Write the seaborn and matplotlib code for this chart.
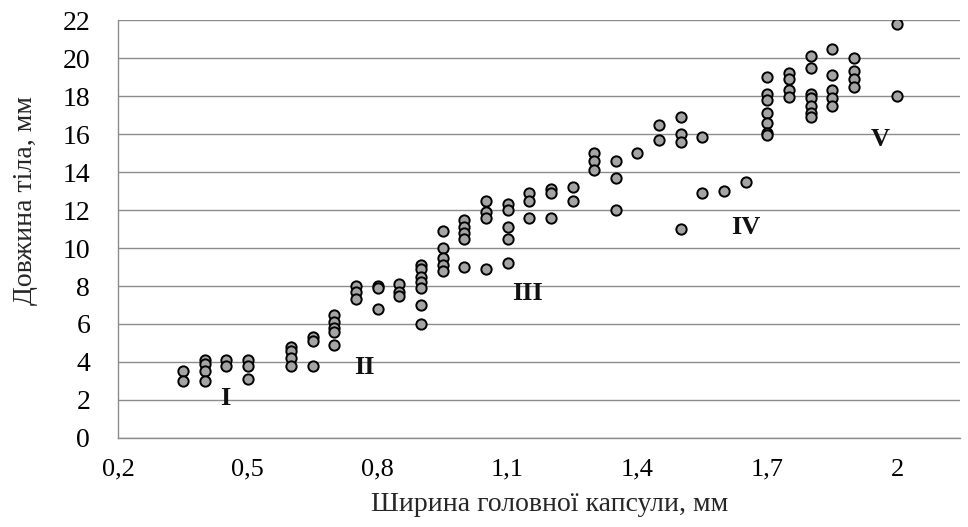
import pandas as pd
import matplotlib
matplotlib.use("Agg")
import matplotlib.pyplot as plt
import seaborn as sns

# head capsule width (mm) and body length (mm)
width_mm = [
    0.35, 0.35,
    0.4, 0.4, 0.4, 0.4,
    0.45, 0.45,
    0.5, 0.5, 0.5,
    0.6, 0.6, 0.6, 0.6,
    0.65, 0.65, 0.65,
    0.7, 0.7, 0.7, 0.7, 0.7,
    0.75, 0.75, 0.75,
    0.8, 0.8, 0.8,
    0.85, 0.85, 0.85,
    0.9, 0.9, 0.9, 0.9, 0.9, 0.9, 0.9,
    0.95, 0.95, 0.95, 0.95, 0.95,
    1.0, 1.0, 1.0, 1.0, 1.0,
    1.05, 1.05, 1.05, 1.05,
    1.1, 1.1, 1.1, 1.1, 1.1,
    1.15, 1.15, 1.15,
    1.2, 1.2, 1.2,
    1.25, 1.25,
    1.3, 1.3, 1.3,
    1.35, 1.35, 1.35,
    1.4,
    1.45, 1.45,
    1.5, 1.5, 1.5, 1.5,
    1.55, 1.55,
    1.6,
    1.65,
    1.7, 1.7, 1.7, 1.7, 1.7, 1.7, 1.7,
    1.75, 1.75, 1.75, 1.75,
    1.8, 1.8, 1.8, 1.8, 1.8, 1.8, 1.8,
    1.85, 1.85, 1.85, 1.85, 1.85,
    1.9, 1.9, 1.9, 1.9,
    2.0, 2.0,
]
length_mm = [
    3.5, 3.0,
    4.1, 3.9, 3.5, 3.0,
    4.1, 3.8,
    4.1, 3.8, 3.1,
    4.8, 4.6, 4.2, 3.8,
    5.3, 5.1, 3.8,
    6.5, 6.1, 5.8, 5.6, 4.9,
    8.0, 7.7, 7.3,
    8.0, 7.9, 6.8,
    8.1, 7.7, 7.5,
    9.1, 8.9, 8.5, 8.2, 7.9, 7.0, 6.0,
    10.9, 10.0, 9.5, 9.1, 8.8,
    11.5, 11.1, 10.8, 10.5, 9.0,
    12.5, 11.9, 11.6, 8.9,
    12.3, 12.0, 11.1, 10.5, 9.2,
    12.9, 12.5, 11.6,
    13.1, 12.9, 11.6,
    13.2, 12.5,
    15.0, 14.6, 14.1,
    14.6, 13.7, 12.0,
    15.0,
    16.5, 15.7,
    16.9, 16.0, 15.6, 11.0,
    15.85, 12.9,
    13.0,
    13.5,
    19.0, 18.1, 17.8, 17.1, 16.6, 16.05, 15.95,
    19.2, 18.9, 18.3, 17.95,
    20.1, 19.5, 18.1, 17.9, 17.5, 17.1, 16.9,
    20.5, 19.1, 18.3, 17.9, 17.5,
    20.0, 19.3, 18.9, 18.5,
    21.8, 18.0,
]

# instar labels and where they sit
instar_labels = ["I", "II", "III", "IV", "V"]
instar_x = [0.447, 0.77, 1.145, 1.65, 1.96]
instar_y = [2.1, 3.7, 7.6, 11.1, 15.7]

x_ticks = [0.2, 0.5, 0.8, 1.1, 1.4, 1.7, 2.0]
x_tick_labels = ["0,2", "0,5", "0,8", "1,1", "1,4", "1,7", "2"]
y_ticks = list(range(0, 23, 2))

df = pd.DataFrame({"width": width_mm, "length": length_mm})

sns.set_style("white")
plt.rcParams["font.family"] = ["Liberation Serif", "DejaVu Serif"]

fig = plt.figure(figsize=(9.68, 5.27), dpi=100)
ax = fig.add_axes([0.1219, 0.1689, 0.8698, 0.7931])

ax.yaxis.grid(True, color="#8c8c8c", linewidth=1.0)
ax.set_axisbelow(True)

sns.scatterplot(data=df, x="width", y="length", ax=ax, s=55,
                color="#a4a4a4", edgecolor="black", linewidth=1.4, zorder=3)

for lab, lx, ly in zip(instar_labels, instar_x, instar_y):
    ax.text(lx, ly, lab, ha="center", va="center", fontsize=19,
            fontweight="bold", color="#111111")

ax.set_xlim(0.2, 2.145)
ax.set_ylim(0, 22)
ax.set_xticks(x_ticks)
ax.set_xticklabels(x_tick_labels)
ax.set_yticks(y_ticks)
ax.tick_params(axis="both", colors="#8c8c8c", labelcolor="black",
               direction="out", length=6, width=1)
ax.tick_params(axis="x", labelsize=19, pad=9)
ax.tick_params(axis="y", labelsize=20, pad=14)

for side in ["top", "right"]:
    ax.spines[side].set_visible(False)
for side in ["left", "bottom"]:
    ax.spines[side].set_color("#8c8c8c")
    ax.spines[side].set_linewidth(1.0)

ax.set_xlabel("Ширина головної капсули, мм", fontsize=20)
ax.set_ylabel("Довжина тіла, мм", fontsize=20)
ax.xaxis.set_label_coords(0.513, -0.175)
ax.yaxis.set_label_coords(-0.110, 0.569)
ax.xaxis.label.set_va("baseline")
ax.yaxis.label.set_va("center")

fig.savefig("out.png", dpi=100)
plt.close(fig)
